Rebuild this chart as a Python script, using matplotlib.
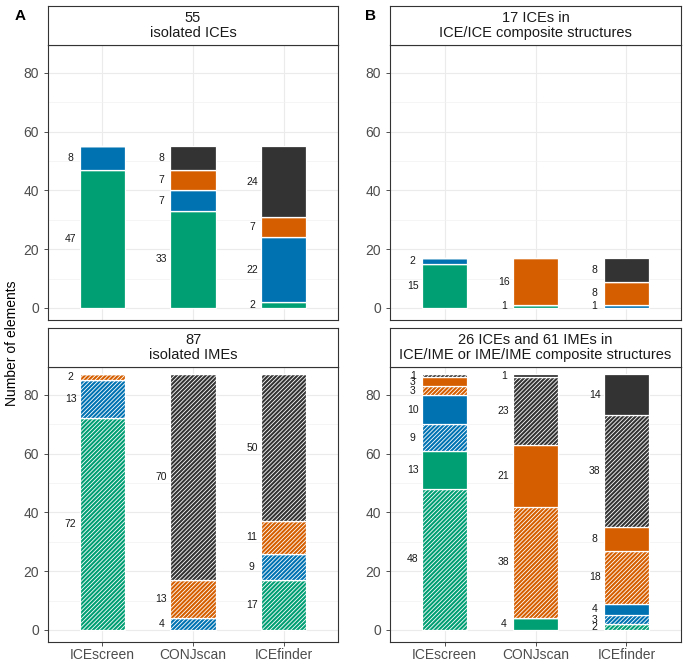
import matplotlib
matplotlib.use("Agg")
import matplotlib.pyplot as plt
import numpy as np

plt.rcParams['font.family'] = ['Liberation Sans', 'DejaVu Sans']
plt.rcParams['hatch.linewidth'] = 0.6

tools = ["ICEscreen", "CONJscan", "ICEfinder"]

# Panel A top: 55 isolated ICEs
a_top_green = [47, 33, 2]
a_top_blue = [8, 7, 22]
a_top_orange = [0, 7, 7]
a_top_dark = [0, 8, 24]

# Panel B top: 17 ICEs in ICE/ICE composite structures
b_top_green = [15, 1, 0]
b_top_blue = [2, 0, 1]
b_top_orange = [0, 16, 8]
b_top_dark = [0, 0, 8]

# Panel A bottom: 87 isolated IMEs (hatched)
a_bot_green_h = [72, 0, 17]
a_bot_blue_h = [13, 4, 9]
a_bot_orange_h = [2, 13, 11]
a_bot_dark_h = [0, 70, 50]

# Panel B bottom: 26 ICEs and 61 IMEs in composite structures
b_bot_green_h = [48, 0, 2]
b_bot_green = [13, 4, 0]
b_bot_blue_h = [9, 0, 3]
b_bot_blue = [10, 0, 4]
b_bot_orange_h = [3, 38, 18]
b_bot_orange = [3, 21, 8]
b_bot_dark_h = [1, 23, 38]
b_bot_dark = [0, 1, 14]

titles = ["55\nisolated ICEs",
          "17 ICEs in\nICE/ICE composite structures",
          "87\nisolated IMEs",
          "26 ICEs and 61 IMEs in\nICE/IME or IME/IME composite structures"]

GREEN, BLUE, ORANGE, DARK = "#009E73", "#0072B2", "#D55E00", "#333333"

zeros = [0, 0, 0]

def stack(gh, g, bh, b, oh, o, dh, d):
    return [(gh, GREEN, True), (g, GREEN, False), (bh, BLUE, True), (b, BLUE, False),
            (oh, ORANGE, True), (o, ORANGE, False), (dh, DARK, True), (d, DARK, False)]

panels = [
    stack(zeros, a_top_green, zeros, a_top_blue, zeros, a_top_orange, zeros, a_top_dark),
    stack(zeros, b_top_green, zeros, b_top_blue, zeros, b_top_orange, zeros, b_top_dark),
    stack(a_bot_green_h, zeros, a_bot_blue_h, zeros, a_bot_orange_h, zeros, a_bot_dark_h, zeros),
    stack(b_bot_green_h, b_bot_green, b_bot_blue_h, b_bot_blue, b_bot_orange_h, b_bot_orange,
          b_bot_dark_h, b_bot_dark),
]

W, H = 685, 662
fig = plt.figure(figsize=(W / 100, H / 100), dpi=100)

def rect(x0, y0, x1, y1):
    return [x0 / W, 1 - y1 / H, (x1 - x0) / W, (y1 - y0) / H]

boxes = [(48, 45, 338, 320), (390, 45, 681, 320), (48, 367, 338, 642), (390, 367, 681, 642)]
strips = [(48, 6, 338, 45), (390, 6, 681, 45), (48, 328, 338, 367), (390, 328, 681, 367)]

x = np.arange(len(tools))
for i, (box, strip, segs, title) in enumerate(zip(boxes, strips, panels, titles)):
    ax = fig.add_axes(rect(*box))
    ax.set_xlim(-0.6, 2.6)
    ax.set_ylim(-4.1, 89.5)
    ax.set_axisbelow(True)
    ax.set_yticks([0, 20, 40, 60, 80])
    ax.set_yticks([10, 30, 50, 70], minor=True)
    ax.set_xticks(x)
    ax.grid(True, which='major', color='#EBEBEB', lw=0.8)
    ax.grid(True, which='minor', axis='y', color='#F2F2F2', lw=0.5)
    ax.tick_params(axis='both', which='major', length=3, color='#333333',
                   labelsize=10, labelcolor='#4D4D4D', width=0.6)
    ax.tick_params(axis='x', which='major', pad=1.5)
    ax.tick_params(axis='both', which='minor', length=0)
    if i >= 2:
        ax.set_xticklabels(tools)
    else:
        ax.set_xticklabels([])
        ax.tick_params(axis='x', length=0)
    for sp in ax.spines.values():
        sp.set_color('#333333')
        sp.set_linewidth(0.8)

    bottom = np.zeros(len(tools))
    for vals, col, hatched in segs:
        vals = np.array(vals, dtype=float)
        ax.bar(x, vals, width=0.5, bottom=bottom, color=col, edgecolor='white',
               linewidth=0.9, hatch='////////' if hatched else None)
        for j in range(len(tools)):
            if vals[j] > 0:
                ax.text(x[j] - 0.35, bottom[j] + vals[j] / 2, f"{int(vals[j])}",
                        ha='center', va='center', fontsize=7.5, color='#1A1A1A')
        bottom += vals

    sax = fig.add_axes(rect(*strip))
    sax.set_xticks([])
    sax.set_yticks([])
    for sp in sax.spines.values():
        sp.set_color('#333333')
        sp.set_linewidth(0.8)
    sax.text(0.5, 0.5, title, ha='center', va='center', fontsize=10.5,
             color='#1A1A1A', transform=sax.transAxes, linespacing=1.1)

fig.text(20 / W, 1 - 16 / H, "A", fontsize=11, fontweight='bold', ha='center', va='center')
fig.text(370 / W, 1 - 16 / H, "B", fontsize=11, fontweight='bold', ha='center', va='center')
fig.text(12 / W, 1 - 343 / H, "Number of elements", rotation=90, fontsize=10,
         ha='center', va='center')

fig.savefig("out.png", dpi=100)
